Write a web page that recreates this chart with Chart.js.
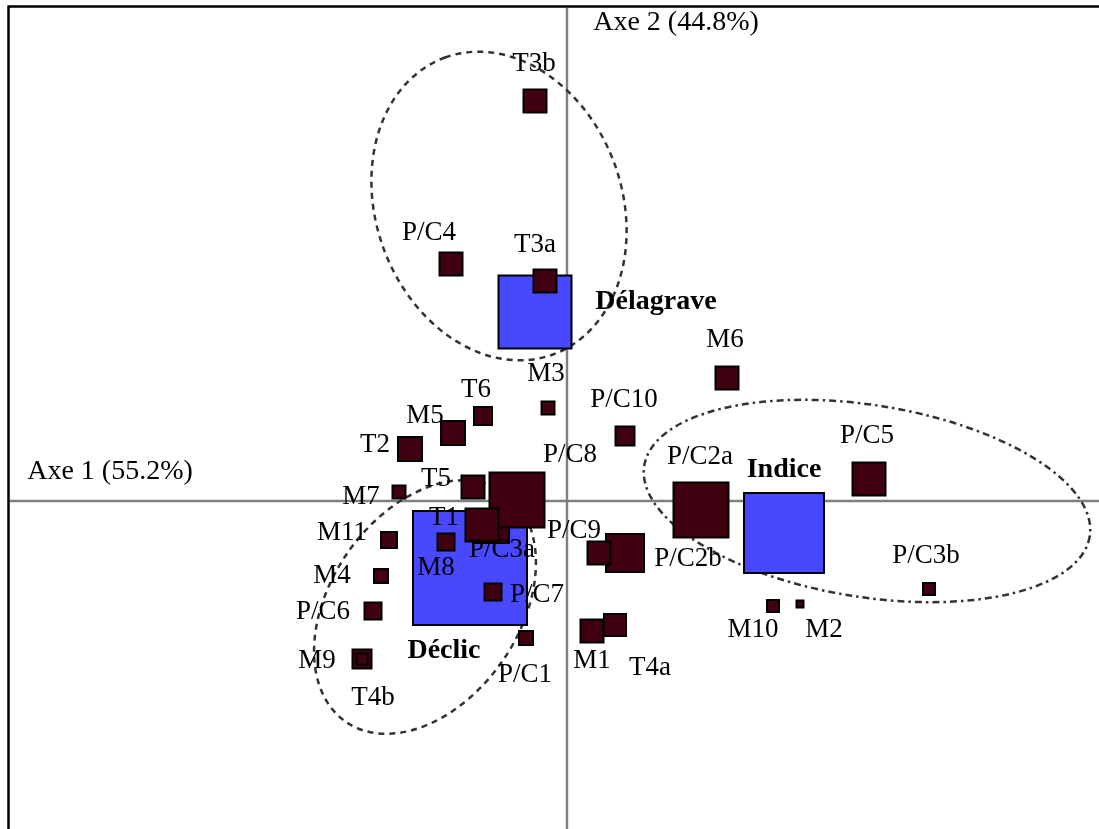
<!DOCTYPE html>
<html><head><meta charset="utf-8">
<script src="https://cdn.jsdelivr.net/npm/chart.js@4/dist/chart.umd.min.js"></script>
<style>html,body{margin:0;padding:0;background:#fff}#wrap{position:relative;width:1099px;height:829px}</style>
</head><body><div id="wrap"><canvas id="c"></canvas></div>
<script>
// Modalities (dark squares): coordinates on axes 1 and 2, weight (square side)
const pointNames  = ['T3b','T3a','P/C4','M6','M3','T6','M5','T2','P/C10','M7','T5','P/C3a','P/C8','T1','M8','P/C7','M11','M4','P/C6','M9','T4b','P/C1','T4a','M1','P/C2b','P/C9','P/C2a','P/C5','P/C3b','M10','M2'];
const pointX      = [-0.064,-0.044,-0.232,0.320,-0.038,-0.168,-0.228,-0.314,0.116,-0.336,-0.188,-0.150,-0.100,-0.170,-0.242,-0.148,-0.356,-0.372,-0.388,-0.410,-0.410,-0.082,0.096,0.050,0.116,0.064,0.268,0.604,0.724,0.412,0.466];
const pointY      = [0.800,0.440,0.474,0.246,0.186,0.170,0.136,0.104,0.130,0.018,0.028,-0.050,0.002,-0.048,-0.082,-0.182,-0.078,-0.150,-0.220,-0.316,-0.316,-0.274,-0.248,-0.260,-0.104,-0.104,-0.018,0.044,-0.176,-0.210,-0.206];
const pointWeight = [25,25,25,25,15,20,26,26,21,15,25,36,57,35,19,19,18,16,19,21,13,16,24,25,40,25,57,35,14,14,9];
const pointLabelX = [-0.066,-0.064,-0.276,0.316,-0.042,-0.182,-0.284,-0.384,0.114,-0.412,-0.262,-0.130,0.006,-0.246,-0.262,-0.060,-0.450,-0.470,-0.488,-0.500,-0.388,-0.084,0.166,0.050,0.242,0.014,0.266,0.600,0.718,0.372,0.514];
const pointLabelY = [0.860,0.498,0.522,0.308,0.240,0.208,0.156,0.098,0.188,-0.006,0.030,-0.112,0.078,-0.048,-0.148,-0.202,-0.078,-0.164,-0.236,-0.334,-0.408,-0.362,-0.348,-0.334,-0.130,-0.074,0.074,0.116,-0.124,-0.272,-0.272];

// Textbooks (blue squares)
const groupNames  = ['Délagrave','Déclic','Indice'];
const groupX      = [-0.064,-0.194,0.434];
const groupY      = [0.378,-0.134,-0.064];
const groupWeight = [75,116,82];
const groupLabelX = [0.178,-0.246,0.434];
const groupLabelY = [0.384,-0.314,0.048];

// Axis titles
const axisTitles  = ['Axe 1 (55.2%)','Axe 2 (44.8%)'];
const axisTitleX  = [-0.914,0.218];
const axisTitleY  = [0.044,0.942];

// Group ellipses: centre, semi-axes, angle of major axis (degrees)
const ellipseCX    = [-0.136,-0.284,0.600];
const ellipseCY    = [0.590,-0.212,0.000];
const ellipseA     = [0.316,0.279,0.451];
const ellipseB     = [0.246,0.189,0.192];
const ellipseAngle = [110,55.5,-9];

const SERIF = '"Liberation Serif","Times New Roman",serif';

const deco = {
  id: 'deco',
  beforeDatasetsDraw(chart, args, opts) {
    const {ctx, scales: {x, y}} = chart;
    ctx.save();
    // axes through origin
    const x0 = x.getPixelForValue(0), y0 = y.getPixelForValue(0);
    ctx.strokeStyle = '#7f7f7f';
    ctx.lineWidth = 2.4;
    ctx.beginPath();
    ctx.moveTo(x.left, y0); ctx.lineTo(x.right, y0);
    ctx.moveTo(x0, y.top); ctx.lineTo(x0, y.bottom);
    ctx.stroke();
    // ellipses
    ellipseCX.forEach((cx, i) => {
      const px = x.getPixelForValue(cx), py = y.getPixelForValue(ellipseCY[i]);
      const ra = x.getPixelForValue(cx + ellipseA[i]) - px;
      const rb = x.getPixelForValue(cx + ellipseB[i]) - px;
      ctx.beginPath();
      ctx.ellipse(px, py, ra, rb, -ellipseAngle[i] * Math.PI / 180, 0, 2 * Math.PI);
      ctx.setLineDash(opts.dashes[i]);
      ctx.lineWidth = 2.5;
      ctx.strokeStyle = '#333';
      ctx.stroke();
    });
    ctx.restore();
  },
  afterDatasetsDraw(chart) {
    const {ctx, scales: {x, y}} = chart;
    ctx.save();
    ctx.fillStyle = '#000';
    ctx.textAlign = 'center';
    ctx.textBaseline = 'alphabetic';
    ctx.font = '27px ' + SERIF;
    pointNames.forEach((n, i) => {
      ctx.fillText(n, x.getPixelForValue(pointLabelX[i]), y.getPixelForValue(pointLabelY[i]));
    });
    ctx.font = 'bold 28px ' + SERIF;
    groupNames.forEach((n, i) => {
      ctx.fillText(n, x.getPixelForValue(groupLabelX[i]), y.getPixelForValue(groupLabelY[i]));
    });
    ctx.font = '28px ' + SERIF;
    axisTitles.forEach((n, i) => {
      ctx.fillText(n, x.getPixelForValue(axisTitleX[i]), y.getPixelForValue(axisTitleY[i]));
    });
    // frame (top and left edges)
    ctx.strokeStyle = '#000';
    ctx.lineWidth = 2.5;
    ctx.beginPath();
    ctx.moveTo(7.5, 6.5); ctx.lineTo(chart.width, 6.5);
    ctx.moveTo(8.5, 6); ctx.lineTo(8.5, chart.height);
    ctx.stroke();
    ctx.restore();
  }
};

const sideToRadius = (side, bw) => Math.max(1, (side - bw) / Math.SQRT2);

new Chart(document.getElementById('c'), {
  type: 'scatter',
  data: {
    datasets: [
      {
        label: 'Modalités',
        data: pointX.map((v, i) => ({x: v, y: pointY[i]})),
        pointStyle: 'rect',
        backgroundColor: '#400010',
        borderColor: '#000',
        borderWidth: 2,
        pointRadius: c => sideToRadius(pointWeight[c.dataIndex], 2),
        pointHoverRadius: c => sideToRadius(pointWeight[c.dataIndex], 2),
        clip: false
      },
      {
        label: 'Manuels',
        data: groupX.map((v, i) => ({x: v, y: groupY[i]})),
        pointStyle: 'rect',
        backgroundColor: '#4848ff',
        borderColor: '#000',
        borderWidth: 2,
        pointRadius: c => sideToRadius(groupWeight[c.dataIndex], 2),
        pointHoverRadius: c => sideToRadius(groupWeight[c.dataIndex], 2),
        clip: false
      }
    ]
  },
  options: {
    responsive: true,
    maintainAspectRatio: false,
    animation: false,
    events: [],
    layout: {autoPadding: false, padding: {left: 10, top: 8, right: 0, bottom: 0}},
    scales: {
      x: {type: 'linear', min: -1.114, max: 1.064, display: false},
      y: {type: 'linear', min: -0.656, max: 0.986, display: false}
    },
    plugins: {
      legend: {display: false},
      tooltip: {enabled: false},
      deco: {dashes: [[6, 5], [6, 5], [7, 4, 2.5, 4]]}
    }
  },
  plugins: [deco]
});
</script>
</body></html>
